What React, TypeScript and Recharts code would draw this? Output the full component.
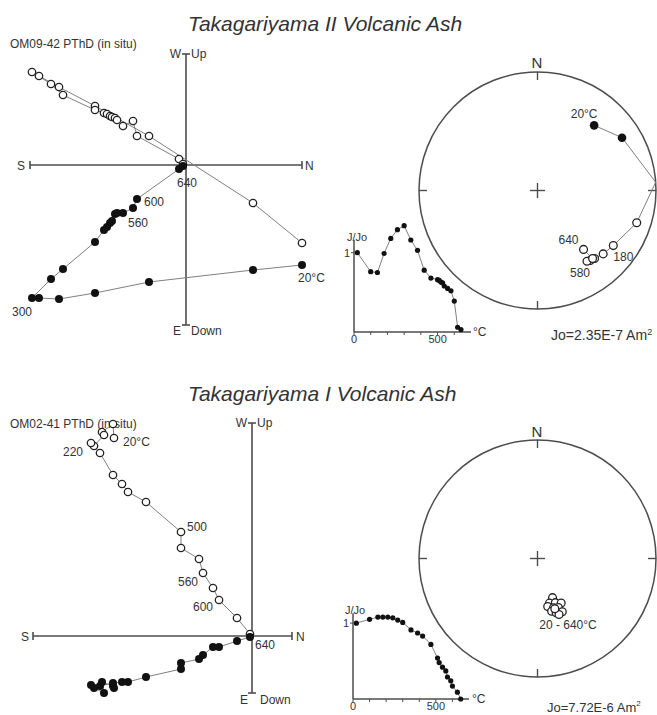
import React from "react";
import {
  ScatterChart,
  Scatter,
  XAxis,
  YAxis,
  ReferenceLine,
  ReferenceDot,
} from "recharts";

const FONT = '"Liberation Sans", Arial, Helvetica, sans-serif';
const INK = "#333";
const AXIS = "#4d4d4d";
const TRACE = "#808080";

// ---------- Takagariyama II : OM09-42 ----------
const zijTempII = [20, 100, 140, 180, 220, 260, 300, 340, 380, 420, 460, 500, 510, 520, 530, 540, 560, 580, 600, 620, 640];
// N component (shared), horizontal plane (W up) and vertical plane (Up) components
const zijNorthII = [116, 67, -37, -91, -127, -147, -154, -135, -123, -91, -82, -79, -76, -74, -71, -69, -63, -53, -49, -7, -3];
const zijHorizII = [-78, -38, 29, 59, 78, 89, 93, 81, 70, 55, 52, 51, 49, 48, 47, 45, 39, 44, 29, 6, 1];
const zijVertII = [-100, -105, -117, -128, -134, -133, -133, -114, -104, -77, -65, -62, -58, -56, -49, -48, -48, -43, -34, -4, -1];
const demagJII = [1.0, 0.76, 0.75, 0.99, 1.18, 1.29, 1.34, 1.16, 1.03, 0.78, 0.68, 0.66, 0.65, 0.63, 0.62, 0.58, 0.55, 0.52, 0.39, 0.06, 0.03];
const stereoDecII = [41, 58, 108, 126, 134, 140, 143, 145, 141, 142];
const stereoIncII = [28, 17, -13, -22, -24, -26, -27, -28, -27, -37];
const horizonCrossII = { dec: 86, inc: 0 };

// ---------- Takagariyama I : OM02-41 ----------
const zijTempI = [20, 100, 150, 180, 200, 220, 250, 300, 350, 400, 450, 500, 520, 540, 560, 580, 600, 620, 640];
const zijNorthI = [-138, -139, -150, -148, -158, -161, -152, -139, -130, -124, -106, -71, -71, -53, -49, -39, -33, -15, -2];
const zijHorizI = [198, 212, 204, 201, 190, 193, 183, 161, 152, 144, 134, 104, 88, 77, 63, 48, 36, 18, 2];
const zijVertI = [-52, -50, -46, -57, -52, -49, -50, -47, -46, -46, -41, -33, -27, -23, -19, -11, -11, -5, -1];
const demagTempI = [20, 100, 150, 180, 210, 240, 270, 300, 350, 390, 420, 470, 510, 520, 540, 560, 570, 590, 600, 630, 650];
const demagJI = [1.0, 1.05, 1.08, 1.08, 1.08, 1.07, 1.04, 1.01, 0.91, 0.87, 0.83, 0.72, 0.54, 0.48, 0.42, 0.37, 0.29, 0.24, 0.17, 0.09, 0.0];
const stereoDecI = [159, 165, 158, 152, 168, 162, 157, 165, 161, 155, 159, 161];
const stereoIncI = [-61, -58, -57, -55, -56, -54, -53, -52, -50, -49, -48, -53];

type Tag = { text: string; dx: number; dy: number; anchor: "start" | "middle" | "end" };

const zijTagsII: Record<number, Tag> = {
  20: { text: "20°C", dx: -4, dy: 13, anchor: "start" },
  300: { text: "300", dx: -10, dy: 14, anchor: "middle" },
  560: { text: "560", dx: 5, dy: 10, anchor: "start" },
  600: { text: "600", dx: 7, dy: 3, anchor: "start" },
  640: { text: "640", dx: 4, dy: 17, anchor: "middle" },
};
const zijTagsI: Record<number, Tag> = {
  20: { text: "20°C", dx: 9, dy: 4, anchor: "start" },
  220: { text: "220", dx: -8, dy: 9, anchor: "end" },
  500: { text: "500", dx: 6, dy: -5, anchor: "start" },
  560: { text: "560", dx: -5, dy: 9, anchor: "end" },
  600: { text: "600", dx: -6, dy: 7, anchor: "end" },
  640: { text: "640", dx: 5, dy: 11, anchor: "start" },
};
const stereoTagsII: Record<number, Tag> = {
  0: { text: "20°C", dx: -10, dy: -11, anchor: "middle" },
  3: { text: "180", dx: 0, dy: 11, anchor: "start" },
  7: { text: "580", dx: -7, dy: 12, anchor: "middle" },
  9: { text: "640", dx: -15, dy: -9, anchor: "middle" },
};

// Lambert equal-area projection, unit primitive circle
const project = (dec: number, inc: number) => {
  const r = Math.sqrt(1 - Math.sin((Math.abs(inc) * Math.PI) / 180));
  const d = (dec * Math.PI) / 180;
  return { x: r * Math.sin(d), y: r * Math.cos(d) };
};

const tagText = (cx: number, cy: number, tag?: Tag) =>
  tag ? (
    <text
      x={cx + tag.dx}
      y={cy + tag.dy}
      textAnchor={tag.anchor}
      dominantBaseline="central"
      fontSize={12}
      fill={INK}
    >
      {tag.text}
    </text>
  ) : null;

const openDot = (tags?: Record<number, Tag>, key = "t", r = 3.7) => (props: any) => {
  const { cx, cy, payload } = props;
  return (
    <g>
      <circle cx={cx} cy={cy} r={r} fill="#fff" stroke="#222" strokeWidth={1.3} />
      {tagText(cx, cy, tags ? tags[payload[key]] : undefined)}
    </g>
  );
};

const filledDot = (tags?: Record<number, Tag>, key = "t", r = 4) => (props: any) => {
  const { cx, cy, payload } = props;
  return (
    <g>
      <circle cx={cx} cy={cy} r={r} fill="#111" />
      {tagText(cx, cy, tags ? tags[payload[key]] : undefined)}
    </g>
  );
};

const noDot = () => <g />;

const Txt = ({
  x,
  y,
  size = 12,
  anchor = "middle",
  italic = false,
  children,
}: {
  x: number;
  y: number;
  size?: number;
  anchor?: "start" | "middle" | "end";
  italic?: boolean;
  children: React.ReactNode;
}) => {
  const tx = anchor === "start" ? "0" : anchor === "end" ? "-100%" : "-50%";
  return (
    <div
      style={{
        position: "absolute",
        left: x,
        top: y,
        transform: `translate(${tx}, -50%)`,
        fontSize: size,
        fontStyle: italic ? "italic" : "normal",
        color: INK,
        whiteSpace: "nowrap",
        lineHeight: 1,
      }}
    >
      {children}
    </div>
  );
};

// orthogonal vector plot, one data unit per pixel
const ZM = { top: 12, right: 34, bottom: 12, left: 26 };

function Zijderveld({ left, top, xDom, yDom, north, horiz, vert, temps, openTags, filledTags }: any) {
  const w = xDom[1] - xDom[0];
  const h = yDom[1] - yDom[0];
  const open = temps.map((t: number, i: number) => ({ t, x: north[i], y: horiz[i] }));
  const filled = temps.map((t: number, i: number) => ({ t, x: north[i], y: vert[i] }));
  const tk = 4;
  const axisStyle = { stroke: AXIS, strokeWidth: 1.6 };
  return (
    <div style={{ position: "absolute", left: left - ZM.left, top: top - ZM.top }}>
      <ScatterChart width={w + ZM.left + ZM.right} height={h + ZM.top + ZM.bottom} margin={ZM}>
        <XAxis type="number" dataKey="x" domain={xDom} hide />
        <YAxis type="number" dataKey="y" domain={yDom} hide />
        <ReferenceLine y={0} {...axisStyle} />
        <ReferenceLine x={0} {...axisStyle} />
        <ReferenceLine segment={[{ x: xDom[0], y: -tk }, { x: xDom[0], y: tk }]} {...axisStyle} />
        <ReferenceLine segment={[{ x: xDom[1], y: -tk }, { x: xDom[1], y: tk }]} {...axisStyle} />
        <ReferenceLine segment={[{ x: -tk, y: yDom[1] }, { x: tk, y: yDom[1] }]} {...axisStyle} />
        <ReferenceLine segment={[{ x: -tk, y: yDom[0] }, { x: tk, y: yDom[0] }]} {...axisStyle} />
        <Scatter
          data={open}
          line={{ stroke: TRACE, strokeWidth: 1 }}
          shape={openDot(openTags)}
          isAnimationActive={false}
        />
        <Scatter
          data={filled}
          line={{ stroke: TRACE, strokeWidth: 1 }}
          shape={filledDot(filledTags)}
          isAnimationActive={false}
        />
      </ScatterChart>
    </div>
  );
}

const R = 118.5;
const SM = 14;

function Stereonet({ cx, cy, dec, inc, cross, tags, connect }: any) {
  const pts = dec.map((d: number, i: number) => ({ i, inc: inc[i], ...project(d, inc[i]) }));
  const lower = pts.filter((p: any) => p.inc >= 0);
  const upper = pts.filter((p: any) => p.inc < 0);
  let path: any[] = [];
  if (connect) {
    const c = { i: -1, inc: 0, ...project(cross.dec, cross.inc) };
    path = [...lower, c, ...upper];
  }
  const t = 8 / R;
  const s = 7.5 / R;
  const st = { stroke: AXIS, strokeWidth: 1.4 };
  return (
    <div style={{ position: "absolute", left: cx - R - SM, top: cy - R - SM }}>
      <ScatterChart
        width={2 * R + 2 * SM}
        height={2 * R + 2 * SM}
        margin={{ top: SM, right: SM, bottom: SM, left: SM }}
      >
        <XAxis type="number" dataKey="x" domain={[-1, 1]} hide />
        <YAxis type="number" dataKey="y" domain={[-1, 1]} hide />
        <ReferenceDot x={0} y={0} r={R} fill="none" stroke={AXIS} strokeWidth={1.5} />
        <ReferenceLine segment={[{ x: 0, y: 1 }, { x: 0, y: 1 - t }]} {...st} />
        <ReferenceLine segment={[{ x: 0, y: -1 }, { x: 0, y: -1 + t }]} {...st} />
        <ReferenceLine segment={[{ x: 1, y: 0 }, { x: 1 - t, y: 0 }]} {...st} />
        <ReferenceLine segment={[{ x: -1, y: 0 }, { x: -1 + t, y: 0 }]} {...st} />
        <ReferenceLine segment={[{ x: -s, y: 0 }, { x: s, y: 0 }]} {...st} />
        <ReferenceLine segment={[{ x: 0, y: -s }, { x: 0, y: s }]} {...st} />
        {connect && (
          <Scatter
            data={path}
            line={{ stroke: TRACE, strokeWidth: 1 }}
            shape={noDot}
            isAnimationActive={false}
          />
        )}
        <Scatter data={upper} shape={openDot(tags, "i", 3.9)} isAnimationActive={false} />
        <Scatter data={lower} shape={filledDot(tags, "i", 4.3)} isAnimationActive={false} />
      </ScatterChart>
    </div>
  );
}

// J/Jo against temperature
const smallDot = (props: any) => <circle cx={props.cx} cy={props.cy} r={2.6} fill="#111" />;

function Demag({ ox, oy, sx, sy, temps, j, axisTop }: any) {
  const plotW = Math.round(700 * sx);
  const plotH = Math.round(1.45 * sy);
  const data = temps.map((t: number, i: number) => ({ t, j: j[i] }));
  return (
    <div style={{ position: "absolute", left: ox - 20, top: oy - plotH - 4 }}>
      <ScatterChart
        width={20 + plotW + 6}
        height={4 + plotH + 16}
        margin={{ top: 4, right: 6, bottom: 0, left: 0 }}
      >
        <XAxis
          type="number"
          dataKey="t"
          domain={[0, 700]}
          ticks={[0, 100, 200, 300, 400, 500, 600]}
          interval={0}
          tickFormatter={(v) => (v === 0 || v === 500 ? String(v) : "")}
          height={16}
          tickSize={3}
          tickMargin={0}
          axisLine={{ stroke: AXIS, strokeWidth: 1.5 }}
          tickLine={{ stroke: AXIS }}
          tick={{ fontSize: 11, fill: INK }}
        />
        <YAxis
          type="number"
          dataKey="j"
          domain={[0, 1.45]}
          ticks={[1]}
          width={20}
          axisLine={false}
          tickSize={3}
          tickMargin={1}
          tickLine={{ stroke: AXIS }}
          tick={{ fontSize: 11, fill: INK }}
        />
        <ReferenceLine segment={[{ x: 0, y: 0 }, { x: 0, y: axisTop }]} stroke={AXIS} strokeWidth={1.5} />
        <Scatter
          data={data}
          line={{ stroke: TRACE, strokeWidth: 1 }}
          shape={smallDot}
          isAnimationActive={false}
        />
      </ScatterChart>
    </div>
  );
}

export default function App() {
  return (
    <div
      style={{
        position: "absolute",
        left: 0,
        top: 0,
        width: 657,
        height: 715,
        background: "#fff",
        fontFamily: FONT,
        overflow: "hidden",
      }}
    >
      {/* upper figure */}
      <Txt x={188} y={23} size={21} anchor="start" italic>
        Takagariyama II Volcanic Ash
      </Txt>
      <Txt x={10} y={44} anchor="start">OM09-42 PThD (in situ)</Txt>
      <Zijderveld
        left={30}
        top={54}
        xDom={[-156, 116]}
        yDom={[-160, 111]}
        temps={zijTempII}
        north={zijNorthII}
        horiz={zijHorizII}
        vert={zijVertII}
        filledTags={zijTagsII}
      />
      <Txt x={25} y={166} anchor="end">S</Txt>
      <Txt x={305} y={166} anchor="start">N</Txt>
      <Txt x={181} y={54} anchor="end">W</Txt>
      <Txt x={191} y={54} anchor="start">Up</Txt>
      <Txt x={181} y={331} anchor="end">E</Txt>
      <Txt x={191} y={331} anchor="start">Down</Txt>

      <Stereonet cx={537} cy={190} dec={stereoDecII} inc={stereoIncII} cross={horizonCrossII} tags={stereoTagsII} connect />
      <Txt x={537} y={62} size={15}>N</Txt>

      <Demag ox={354} oy={332} sx={0.167} sy={79} temps={zijTempII} j={demagJII} axisTop={1.16} />
      <Txt x={347} y={237} size={11} anchor="start">J/Jo</Txt>
      <Txt x={473} y={332} anchor="start">°C</Txt>
      <Txt x={551} y={335} size={14} anchor="start">
        Jo=2.35E-7 Am<sup style={{ fontSize: 9 }}>2</sup>
      </Txt>

      {/* lower figure */}
      <Txt x={188} y={393} size={21} anchor="start" italic>
        Takagariyama I Volcanic Ash
      </Txt>
      <Txt x={10} y={424} anchor="start">OM02-41 PThD (in situ)</Txt>
      <Zijderveld
        left={33}
        top={423}
        xDom={[-219, 40]}
        yDom={[-57, 213]}
        temps={zijTempI}
        north={zijNorthI}
        horiz={zijHorizI}
        vert={zijVertI}
        openTags={zijTagsI}
      />
      <Txt x={29} y={637} anchor="end">S</Txt>
      <Txt x={296} y={637} anchor="start">N</Txt>
      <Txt x={247} y={423} anchor="end">W</Txt>
      <Txt x={257} y={423} anchor="start">Up</Txt>
      <Txt x={248} y={700} anchor="end">E</Txt>
      <Txt x={260} y={700} anchor="start">Down</Txt>

      <Stereonet cx={537} cy={558} dec={stereoDecI} inc={stereoIncI} />
      <Txt x={537} y={431} size={15}>N</Txt>
      <Txt x={568} y={625}>20 - 640°C</Txt>

      <Demag ox={353} oy={699} sx={0.165} sy={76} temps={demagTempI} j={demagJI} axisTop={1.13} />
      <Txt x={345} y={610} size={11} anchor="start">J/Jo</Txt>
      <Txt x={472} y={699} anchor="start">°C</Txt>
      <Txt x={547} y={707} size={13} anchor="start">
        Jo=7.72E-6 Am<sup style={{ fontSize: 8 }}>2</sup>
      </Txt>
    </div>
  );
}
